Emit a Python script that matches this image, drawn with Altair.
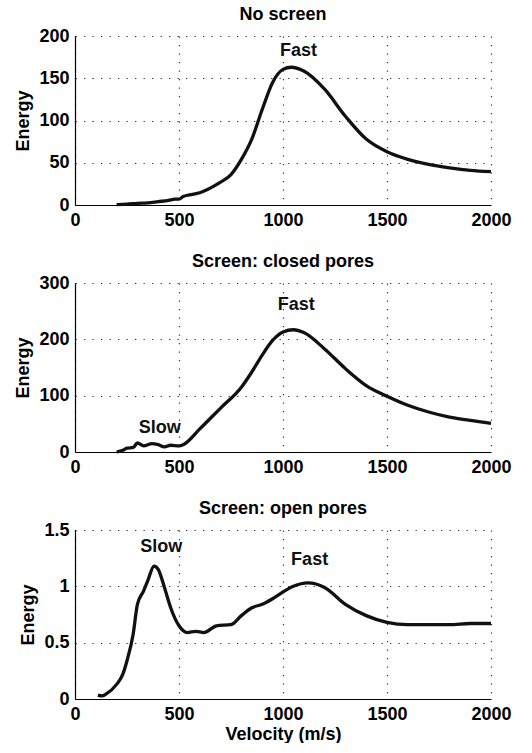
import altair as alt
import pandas as pd

# Panel 1: No screen
v1 = [200, 250, 300, 350, 400, 450, 480, 500, 520, 550, 600, 650, 700, 750, 800, 850, 900, 950,
      1000, 1040, 1100, 1200, 1300, 1400, 1500, 1600, 1700, 1800, 1900, 2000]
e1 = [0.5, 1, 2, 2.5, 4, 5.5, 7, 7, 10, 12, 14.5, 20, 27, 36, 54, 78, 113, 145,
      160.5, 163, 158.5, 137, 105, 78, 63, 54, 48, 44, 41, 39.5]

# Panel 2: Screen: closed pores
v2 = [200, 230, 250, 280, 300, 330, 370, 400, 430, 460, 500, 520, 600, 700, 800, 850, 900, 950,
      1000, 1050, 1100, 1200, 1300, 1400, 1500, 1600, 1700, 1800, 1900, 2000]
e2 = [0, 3, 7, 8, 16, 11, 15, 13, 9, 12, 11, 13, 41, 78, 115, 142, 172, 198,
      213, 217, 212, 183, 148, 118, 99, 83, 71, 62, 56, 51]

# Panel 3: Screen: open pores
v3 = [110, 130, 150, 200, 230, 250, 280, 300, 330, 350, 380, 400, 430, 460, 500, 540, 580, 620,
      680, 750, 800, 850, 900, 950, 1000, 1050, 1120, 1200, 1300, 1400, 1500, 1600, 1700, 1800,
      1900, 2000]
e3 = [0.035, 0.027, 0.045, 0.13, 0.22, 0.34, 0.58, 0.84, 0.96, 1.05, 1.18, 1.15, 0.99, 0.81,
      0.65, 0.59, 0.60, 0.59, 0.65, 0.66, 0.74, 0.81, 0.84, 0.89, 0.95, 1.00, 1.03, 0.99, 0.84,
      0.74, 0.68, 0.66, 0.66, 0.66, 0.67, 0.67]

titles = ["No screen", "Screen: closed pores", "Screen: open pores"]
y_max = [200, 300, 1.5]
y_ticks = [[0, 50, 100, 150, 200], [0, 100, 200, 300], [0, 0.5, 1, 1.5]]
y_formats = ["d", "d", ".1~f"]
x_ticks = [0, 500, 1000, 1500, 2000]

labels = [
    [("Fast", 1075, 182)],
    [("Fast", 1064, 261), ("Slow", 407, 43)],
    [("Slow", 415, 1.35), ("Fast", 1128, 1.23)],
]

FONT = "Liberation Sans"
W, H = 416, 169


def panel(vs, es, title, ymax, yt, fmt, labs, last):
    df = pd.DataFrame({"v": vs, "e": es})
    common = dict(labelFontSize=18, labelFontWeight="bold", labelFont=FONT,
                  titleFontSize=18, titleFontWeight="bold", titleFont=FONT,
                  ticks=False, grid=True, gridDash=[1.3, 7.2], gridColor="black",
                  gridWidth=1.2, gridOpacity=0.8,
                  domainColor="black", domainWidth=1.2, labelColor="black", titleColor="black",
                  labelFlush=False, labelOverlap=False)
    xaxis = alt.Axis(values=x_ticks, title="Velocity (m/s)" if last else None, format="d",
                     labelPadding=6, titlePadding=2, **common)
    yaxis = alt.Axis(values=yt, title="Energy", format=fmt,
                     labelPadding=6, titlePadding=6, **common)
    line = alt.Chart(df).mark_line(color="#111111", strokeWidth=3.3, interpolate="monotone").encode(
        x=alt.X("v:Q", scale=alt.Scale(domain=[0, 2000], nice=False), axis=xaxis),
        y=alt.Y("e:Q", scale=alt.Scale(domain=[0, ymax], nice=False), axis=yaxis),
    )
    ldf = pd.DataFrame({"t": [l[0] for l in labs], "v": [l[1] for l in labs], "e": [l[2] for l in labs]})
    txt = alt.Chart(ldf).mark_text(font=FONT, fontSize=18, fontWeight="bold", color="#111111",
                                   baseline="middle", align="center").encode(
        x="v:Q", y="e:Q", text="t:N")
    return alt.layer(line, txt).properties(
        width=W, height=H,
        title=alt.TitleParams(title, fontSize=18, fontWeight="bold", font=FONT, color="black",
                              anchor="middle", offset=3),
    )


charts = [
    panel(v1, e1, titles[0], y_max[0], y_ticks[0], y_formats[0], labels[0], False),
    panel(v2, e2, titles[1], y_max[1], y_ticks[1], y_formats[1], labels[1], False),
    panel(v3, e3, titles[2], y_max[2], y_ticks[2], y_formats[2], labels[2], True),
]

chart = alt.vconcat(*charts, spacing=24).properties(
    padding={"left": 14, "top": 6, "right": 0, "bottom": 0},
    background="white",
).configure_view(strokeWidth=0)

chart.save("out.html", embed_options={"renderer": "svg", "actions": False})
